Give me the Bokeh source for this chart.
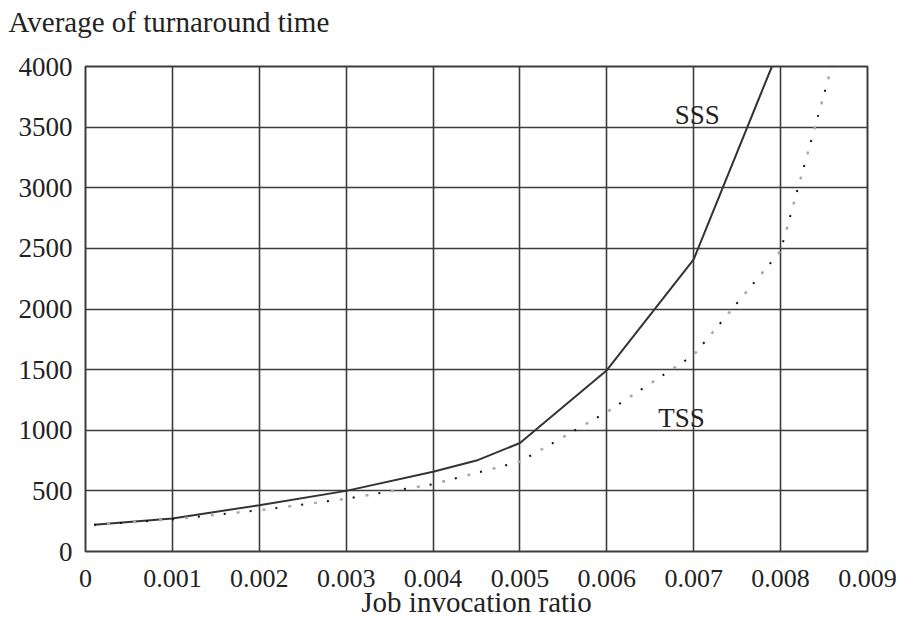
from bokeh.plotting import figure
from bokeh.models import Range1d, FixedTicker, CustomJSTickFormatter, Label, Title
from bokeh.layouts import column
from bokeh.embed import file_html
from bokeh.resources import INLINE

# ---- data ----
x_ticks = [0, 0.001, 0.002, 0.003, 0.004, 0.005, 0.006, 0.007, 0.008, 0.009]
y_ticks = [0, 500, 1000, 1500, 2000, 2500, 3000, 3500, 4000]

sss_x = [0.0001, 0.001, 0.002, 0.003, 0.004, 0.0045, 0.005, 0.006, 0.007, 0.0079]
sss_y = [220, 272, 382, 500, 658, 750, 895, 1495, 2410, 4000]

tss_x = [0.0001, 0.001, 0.002, 0.003, 0.004, 0.005, 0.006, 0.007, 0.008, 0.0086]
tss_y = [220, 265, 340, 435, 555, 740, 1150, 1620, 2480, 4030]

title_text = "Average of turnaround time"
x_label = "Job invocation ratio"
series_labels = ["SSS", "TSS"]
label_pos = [(0.00704, 3600), (0.00686, 1097)]

FONT = "Liberation Serif"
INK = "#3c3c3c"
TXT = "#222222"
W, TOP_H, H = 898, 52, 620

# ---- header strip holding the horizontal y-axis title ----
head = figure(width=W, height=TOP_H, output_backend="svg", toolbar_location=None,
              x_axis_type=None, y_axis_type=None,
              min_border_left=85, min_border_right=31, min_border_top=0, min_border_bottom=0)
head.outline_line_color = None
head.background_fill_color = "white"
head.border_fill_color = "white"
head.grid.visible = False
head.add_layout(Title(text=title_text, align="left", offset=-77, vertical_align="top",
                      text_font=FONT, text_font_size="29px", text_font_style="normal",
                      text_color=TXT, standoff=10), "above")

# ---- main chart ----
p = figure(width=W, height=H - TOP_H, output_backend="svg", toolbar_location=None,
           x_range=Range1d(0, 0.009), y_range=Range1d(0, 4000),
           frame_width=782, frame_height=485,
           min_border_left=85, min_border_right=31, min_border_top=14, min_border_bottom=69)
p.background_fill_color = "white"
p.border_fill_color = "white"
p.outline_line_color = INK
p.outline_line_width = 2

xt = FixedTicker(ticks=x_ticks)
yt = FixedTicker(ticks=y_ticks)
p.xaxis.ticker = xt
p.yaxis.ticker = yt
p.xgrid.ticker = xt
p.ygrid.ticker = yt
p.xaxis.formatter = CustomJSTickFormatter(code="return tick == 0 ? '0' : tick.toFixed(3);")

for ax in (p.xaxis, p.yaxis):
    ax.axis_line_color = None
    ax.major_tick_line_color = None
    ax.minor_tick_line_color = None
    ax.major_tick_out = 0
    ax.major_tick_in = 0
    ax.major_label_text_font = FONT
    ax.major_label_text_color = TXT

p.xaxis.major_label_text_font_size = "26px"
p.yaxis.major_label_text_font_size = "27px"
p.yaxis.major_label_standoff = 13
p.xaxis.major_label_standoff = 18
p.xaxis.axis_label = x_label
p.xaxis.axis_label_text_font = FONT
p.xaxis.axis_label_text_font_size = "29px"
p.xaxis.axis_label_text_font_style = "normal"
p.xaxis.axis_label_text_color = TXT
p.xaxis.axis_label_standoff = -4

for g in (p.xgrid, p.ygrid):
    g.grid_line_color = INK
    g.grid_line_width = 1.6
    g.grid_line_alpha = 1.0

# SSS solid line
p.line(sss_x, sss_y, line_color="#333333", line_width=2)
# TSS dotted line (black and grey dots as in the scan)
p.line(tss_x, tss_y, line_color="#111111", line_width=2, line_dash="2 24")
p.line(tss_x, tss_y, line_color="#aaaaaa", line_width=2.5, line_dash="3 23", line_dash_offset=13)

for txt, (lx, ly) in zip(series_labels, label_pos):
    p.add_layout(Label(x=lx, y=ly, text=txt, text_font=FONT, text_font_size="27px",
                       text_align="center", text_baseline="middle", text_color=TXT))

page = column(head, p, spacing=0)
open("out.html", "w").write(file_html(page, INLINE))
